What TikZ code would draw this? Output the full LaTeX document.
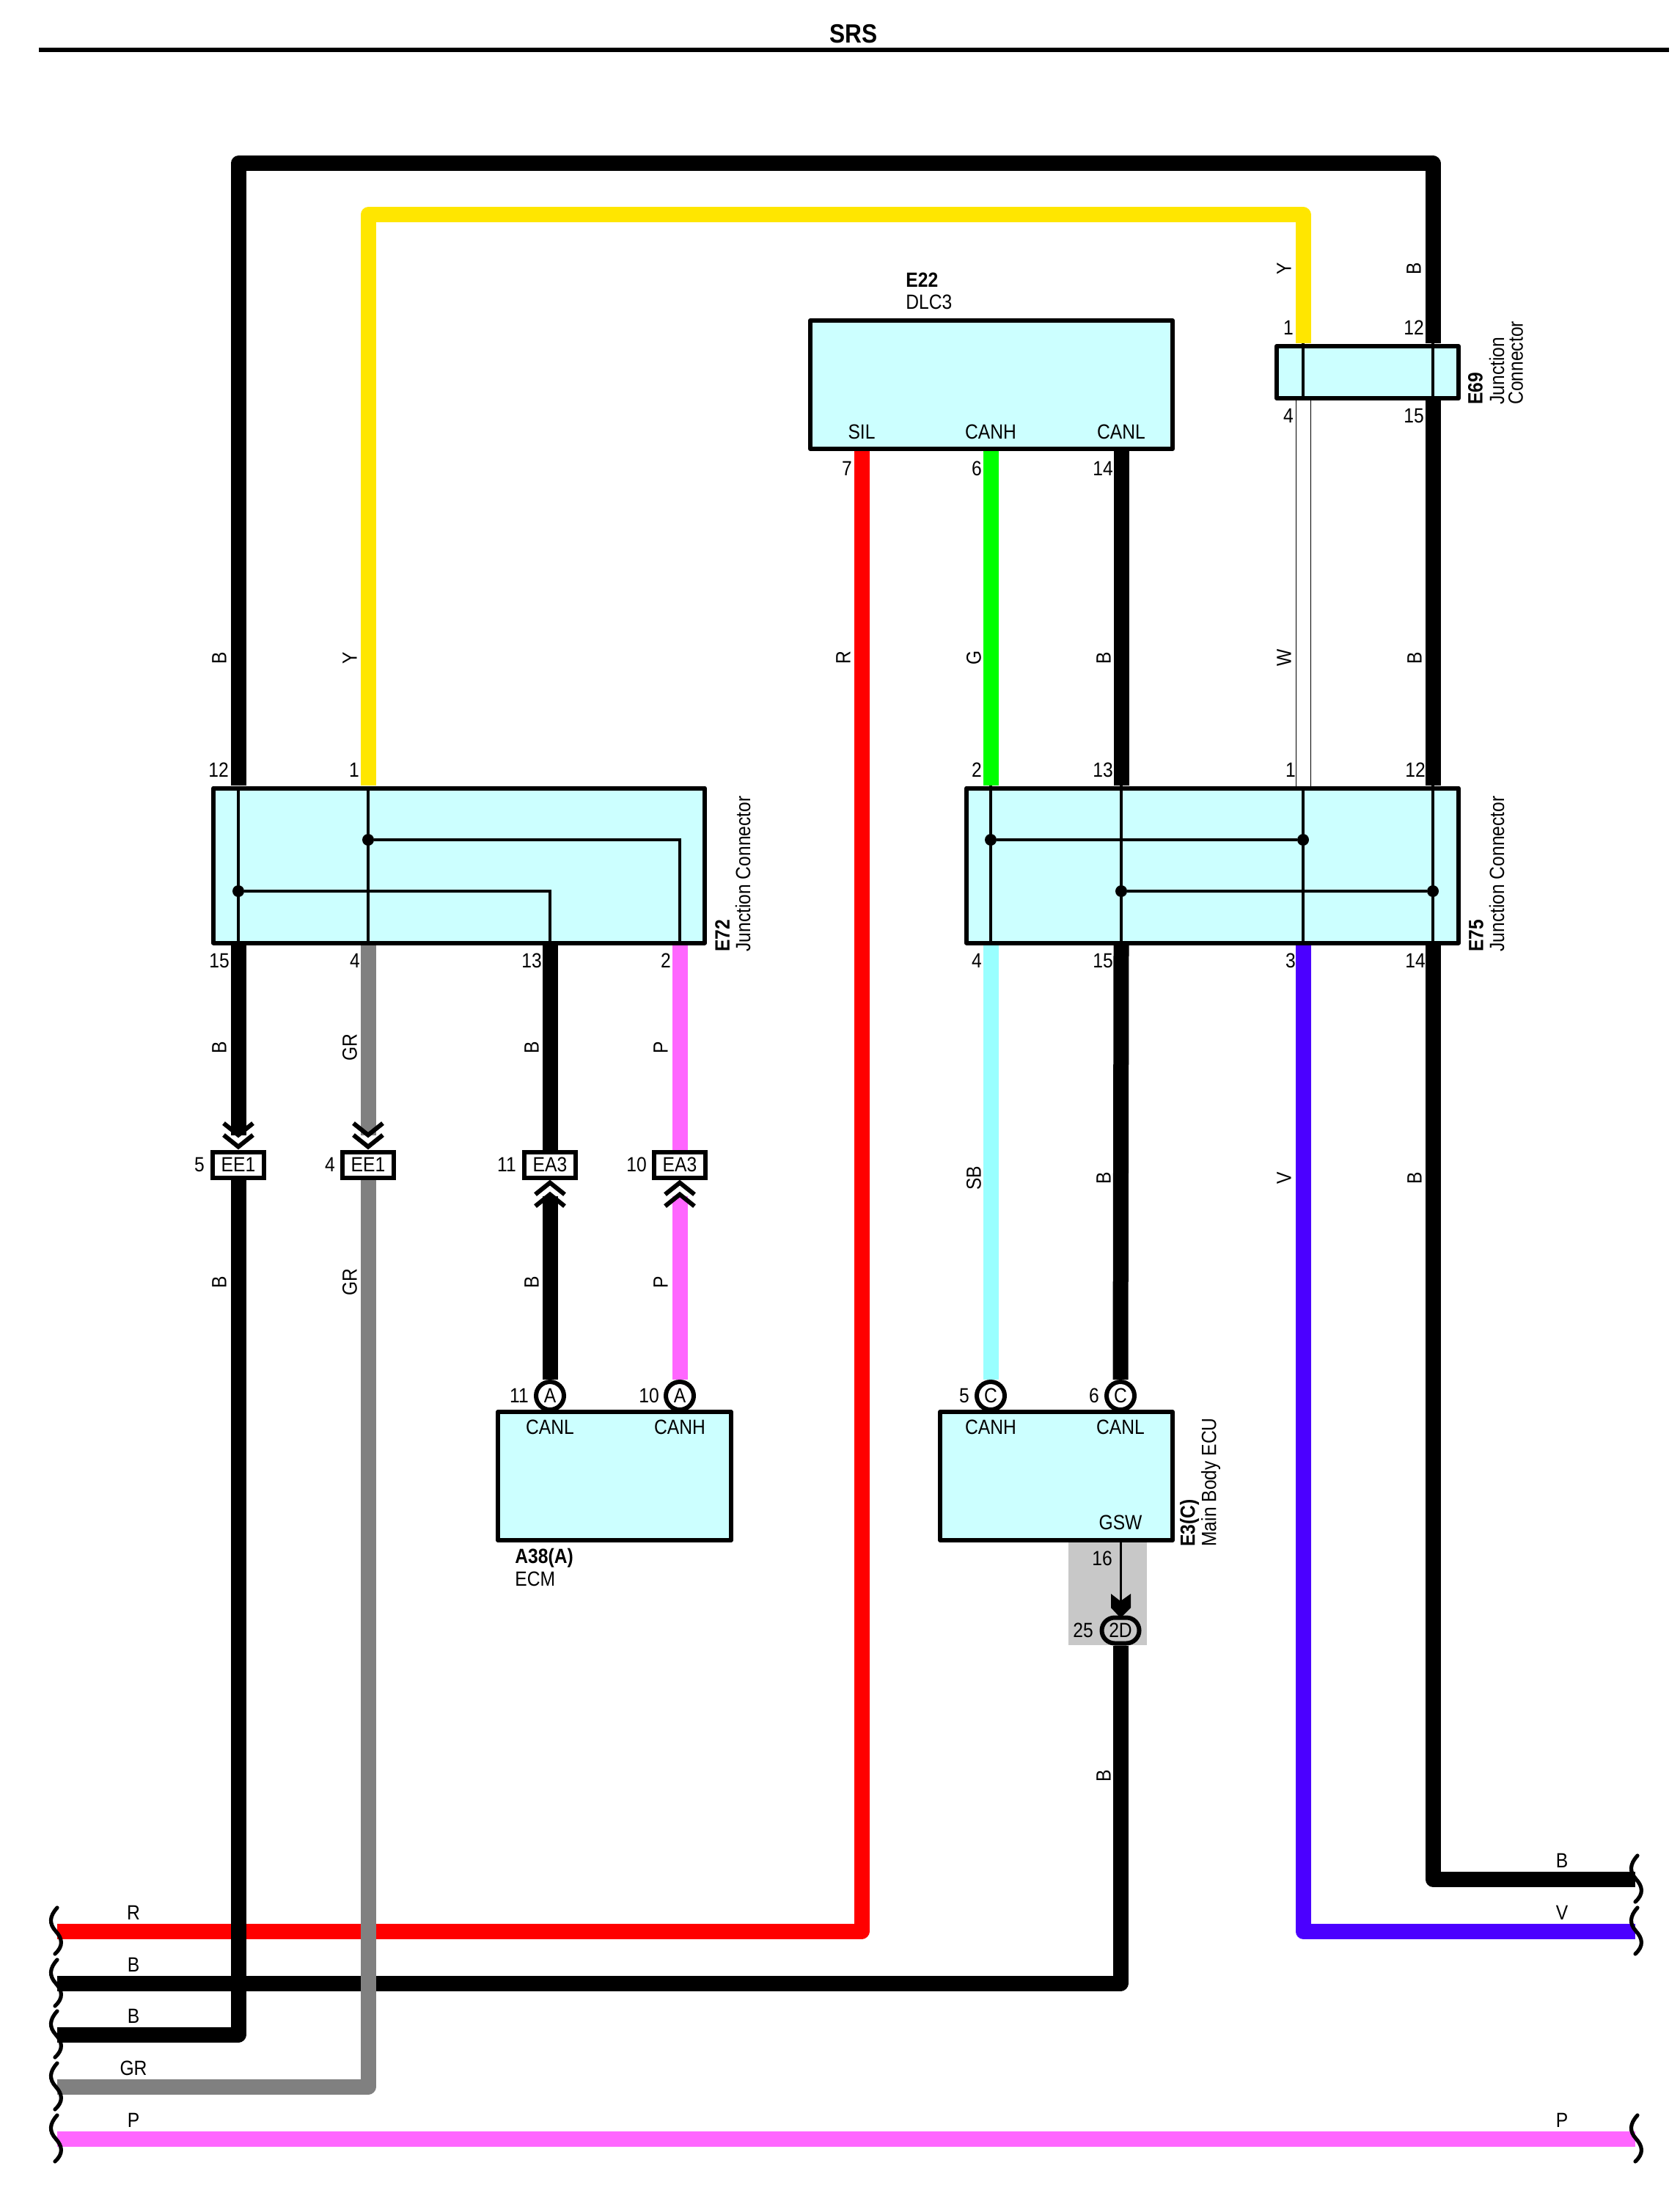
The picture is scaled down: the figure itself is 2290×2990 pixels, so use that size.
\documentclass[tikz,border=0pt]{standalone}
\usepackage{fontspec}
\setmainfont[FakeStretch=0.88]{Liberation Sans}
\usetikzlibrary{positioning,calc,shapes.misc}

\definecolor{wireY}{HTML}{FFE600}
\definecolor{wireR}{HTML}{FF0000}
\definecolor{wireG}{HTML}{00FF00}
\definecolor{wireSB}{HTML}{99FFFF}
\definecolor{wireV}{HTML}{4B00FF}
\definecolor{wireP}{HTML}{FF66FF}
\definecolor{wireGR}{HTML}{808080}
\definecolor{unitfill}{HTML}{CCFFFF}
\definecolor{splicegray}{HTML}{C8C8C8}

\begin{document}
\begin{tikzpicture}[x=0.5pt,y=-0.5pt]
    \tikzset{txt/.style={font=\fontsize{14}{14}\selectfont, inner sep=0pt},
      wirelabel/.style={txt, rotate=90},
      tagname/.style={wirelabel, anchor=west},
      tagbold/.style={tagname, font=\fontsize{14}{14}\selectfont\bfseries},
      unitbox/.style={draw, fill=unitfill, line width=3pt, line join=round, inner sep=0pt},
      inline/.style={line width=2pt},
      inlinedot/.style={circle, fill, inner sep=0pt, minimum size=8pt},
      wire/.style={line width=10.5pt, line join=round},
      plug/.style={draw, fill=white, line width=3pt, txt, minimum width=35pt, minimum height=17.5pt},
      pin/.style={circle, draw, fill=white, line width=3pt, txt, minimum size=19pt},
      pics/chevdown/.style={code={
        \draw[line width=3pt] (-20,-36) -- (0,-20) -- (20,-36);
        \draw[line width=3pt] (-20,-20) -- (0,-4) -- (20,-20);
      }},
      pics/chevup/.style={code={
        \draw[line width=3pt] (-20,20) -- (0,4) -- (20,20);
        \draw[line width=3pt] (-20,36) -- (0,20) -- (20,36);
      }},
      pics/squiggle/.style={code={
        \draw[line width=2.6pt, line cap=round] (2,-32) .. controls (-9,-20) and (-9,-10) .. (0,0)
          .. controls (9,10) and (11,20) .. (-1,31);
      }}
    }

    \useasboundingbox (0,0) rectangle (2290,2990);

    % title
    \node[font=\fontsize{18}{18}\selectfont\bfseries, inner sep=0pt] (title) at (1164,46) {SRS};
    \coordinate (ruleL) at (53,68);
    \coordinate (ruleR) at (2276,68);
    \draw[line width=3pt] (ruleL) -- (ruleR);

    % units
    \node[unitbox, minimum width=335pt, minimum height=105.5pt] (E72) at (626,1180) {};
    \node[unitbox, minimum width=335.5pt, minimum height=105.5pt] (E75) at (1653.5,1180) {};
    \node[unitbox, minimum width=124pt, minimum height=35.5pt] (E69) at (1865,507.5) {};
    \node[unitbox, minimum width=247pt, minimum height=87.5pt] (E22) at (1352,524.5) {};
    \node[fill=splicegray, inner sep=0pt, minimum width=53.5pt, minimum height=70pt] (gswzone) at (1510.5,2173) {};
    \node[unitbox, minimum width=158.5pt, minimum height=87.5pt] (E3) at (1440.5,2012.5) {};
    \node[unitbox, minimum width=159pt, minimum height=87.5pt] (A38) at (838,2012.5) {};

    % pins on the edges of the units
    \coordinate (E72-12) at (325,1071);
    \coordinate (E72-1) at (502,1071);
    \coordinate (E72-15) at (325,1289);
    \coordinate (E72-4) at (502,1289);
    \coordinate (E72-13) at (750,1289);
    \coordinate (E72-2) at (927,1289);
    \coordinate (E75-2) at (1351,1071);
    \coordinate (E75-13) at (1529,1071);
    \coordinate (E75-1) at (1777,1072);
    \coordinate (E75-12) at (1954,1071);
    \coordinate (E75-4) at (1351,1289);
    \coordinate (E75-15) at (1529,1289);
    \coordinate (E75-3) at (1777,1289);
    \coordinate (E75-14) at (1954,1289);
    \coordinate (E69-1) at (1777,468);
    \coordinate (E69-12) at (1954,468);
    \coordinate (E69-4) at (1777,546);
    \coordinate (E69-15) at (1954,546);
    \coordinate (E22-7) at (1175,615);
    \coordinate (E22-6) at (1351,615);
    \coordinate (E22-14) at (1529,615);

    % inside the junction connectors
    \draw[inline] (E72-12 |- E72.north) -- (E72-15 |- E72.south);
    \draw[inline] (E72-1 |- E72.north) -- (E72-4 |- E72.south);
    \node[inlinedot] (E72a) at (502,1145) {};
    \node[inlinedot] (E72b) at (325,1215) {};
    \draw[inline] (E72a) -| (E72-2);
    \draw[inline] (E72b) -| (E72-13);

    \draw[inline] (E75-2) -- (E75-4);
    \draw[inline] (E75-13) -- (E75-15);
    \draw[inline] (E75-1) -- (E75-3);
    \draw[inline] (E75-12) -- (E75-14);
    \node[inlinedot] (E75a) at (1351,1145) {};
    \node[inlinedot] (E75b) at (1777,1145) {};
    \node[inlinedot] (E75c) at (1529,1215) {};
    \node[inlinedot] (E75d) at (1954,1215) {};
    \draw[inline] (E75a) -- (E75b);
    \draw[inline] (E75c) -- (E75d);

    \draw[inline] (E69-1) -- (E69-4);
    \draw[inline] (E69-12) -- (E69-15);

    % connectors
    \node[plug] (EE1a) at (325,1588) {EE1};
    \node[plug] (EE1b) at (502,1588) {EE1};
    \node[plug] (EA3a) at (750,1588) {EA3};
    \node[plug] (EA3b) at (927,1588) {EA3};
    \node[pin] (A38a) at (750,1903) {A};
    \node[pin] (A38b) at (927,1903) {A};
    \node[pin] (E3a) at (1351,1903) {C};
    \node[pin] (E3b) at (1528,1903) {C};
    \node[draw, fill=splicegray, line width=3pt, txt, rounded rectangle, minimum width=25.5pt, minimum height=17.5pt] (G2D) at (1528,2223) {2D};
    \draw[inline, line width=1.5pt] (1528,2103) -- (G2D.north);
    \fill (1515,2173) -- (1528,2183) -- (1542,2173) -- (1542,2192) -- (1528,2206) -- (1515,2192) -- cycle;

    % free ends and corners
    \coordinate (topL) at (325,223);
    \coordinate (topR) at (1954,223);
    \coordinate (yelL) at (502,293);
    \coordinate (yelR) at (1777,293);
    \coordinate (endR) at (78,2633);
    \coordinate (endB1) at (78,2704);
    \coordinate (endB2) at (78,2774);
    \coordinate (endGR) at (78,2845);
    \coordinate (endP) at (78,2916);
    \coordinate (endB) at (2230,2562);
    \coordinate (endV) at (2230,2633);
    \coordinate (endP2) at (2230,2916);

    % wires
    \draw[wire] (E72-12) -- (topL) -- (topR) -- (E69-12);
    \draw[wire, wireY] (E72-1) -- (yelL) -- (yelR) -- (E69-1);
    \draw[wire] (E72-15) -- ($(EE1a.north)+(0,-20)$);
    \draw[wire, wireGR] (E72-4) -- ($(EE1b.north)+(0,-20)$);
    \draw[wire] (E72-13) -- (EA3a.north);
    \draw[wire, wireP] (E72-2) -- (EA3b.north);
    \draw[wire] (A38a.north) -- ($(EA3a.south)+(0,22)$);
    \draw[wire, wireP] (A38b.north) -- ($(EA3b.south)+(0,22)$);
    \pic at (EE1a.north) {chevdown};
    \pic at (EE1b.north) {chevdown};
    \pic at (EA3a.south) {chevup};
    \pic at (EA3b.south) {chevup};

    \draw[wire, wireR] (E22-7) -- (endR -| E22-7) -- (endR);
    \draw[wire, wireG] (E22-6) -- (E75-2);
    \draw[wire] (E22-14) -- (E75-13);
    \draw[wire, wireSB] (E75-4) -- (E3a.north);
    \draw[wire] (E75-15) -- (E3b.north);
    \draw[wire] (G2D.south) -- (endB1 -| G2D.south) -- (endB1);
    \draw[wire] (EE1a.south) -- (endB2 -| EE1a.south) -- (endB2);
    \draw[wire, wireGR] (EE1b.south) -- (endGR -| EE1b.south) -- (endGR);
    \draw[wire, wireP] (endP) -- (endP2);
    \draw[wire, wireV] (E75-3) -- (endV -| E75-3) -- (endV);
    \draw[wire] (E69-15) -- (E75-12);
    \draw[wire] (E75-14) -- (endB -| E75-14) -- (endB);
    % white wire
    \draw[line width=0.5pt] (1767,546) -- (1767,1072);
    \draw[line width=0.5pt] (1787,546) -- (1787,1072);

    \pic at (76,2633) {squiggle};
    \pic at (76,2704) {squiggle};
    \pic at (76,2774) {squiggle};
    \pic at (76,2845) {squiggle};
    \pic at (76,2916) {squiggle};
    \pic at (2231,2562) {squiggle};
    \pic at (2231,2633) {squiggle};
    \pic at (2231,2916) {squiggle};

    % unit names
    \node[txt, anchor=west, font=\fontsize{14}{14}\selectfont\bfseries] (E22name) at (1235,382) {E22};
    \node[txt, anchor=west] (E22desc) at (1235,412) {DLC3};
    \node[txt, anchor=west, font=\fontsize{14}{14}\selectfont\bfseries] (A38name) at (702,2124) {A38(A)};
    \node[txt, anchor=west] (A38desc) at (702,2153) {ECM};
    \node[tagbold] (E69name) at (2012,552) {E69};
    \node[tagname] (E69descA) at (2041,552) {Junction};
    \node[tagname] (E69descB) at (2067,552) {Connector};
    \node[tagbold] (E72name) at (985,1298) {E72};
    \node[tagname] (E72desc) at (1013,1298) {Junction Connector};
    \node[tagbold] (E75name) at (2013,1298) {E75};
    \node[tagname] (E75desc) at (2041,1298) {Junction Connector};
    \node[tagbold] (E3name) at (1622,2109) {E3(C)};
    \node[tagname] (E3desc) at (1651,2109) {Main Body ECU};

    % terminals inside units
    \node[txt] (SIL) at (1175,589) {SIL};
    \node[txt] (E22H) at (1351,589) {CANH};
    \node[txt] (E22L) at (1529,589) {CANL};
    \node[txt] (A38L) at (750,1946) {CANL};
    \node[txt] (A38H) at (927,1946) {CANH};
    \node[txt] (E3H) at (1351,1946) {CANH};
    \node[txt] (E3L) at (1528,1946) {CANL};
    \node[txt] (GSW) at (1528,2076) {GSW};

    % pin numbers
    \node[txt] (n1) at (1757,447) {1};
    \node[txt] (n2) at (1928,447) {12};
    \node[txt] (n3) at (1757,567) {4};
    \node[txt] (n4) at (1928,567) {15};
    \node[txt] (n5) at (1155,639) {7};
    \node[txt] (n6) at (1332,639) {6};
    \node[txt] (n7) at (1504,639) {14};
    \node[txt] (n8) at (298,1050) {12};
    \node[txt] (n9) at (483,1050) {1};
    \node[txt] (n10) at (1332,1050) {2};
    \node[txt] (n11) at (1504,1050) {13};
    \node[txt] (n12) at (1760,1050) {1};
    \node[txt] (n13) at (1930,1050) {12};
    \node[txt] (n14) at (299,1310) {15};
    \node[txt] (n15) at (484,1310) {4};
    \node[txt] (n16) at (725,1310) {13};
    \node[txt] (n17) at (908,1310) {2};
    \node[txt] (n18) at (1332,1310) {4};
    \node[txt] (n19) at (1504,1310) {15};
    \node[txt] (n20) at (1760,1310) {3};
    \node[txt] (n21) at (1930,1310) {14};
    \node[txt] (n22) at (272,1588) {5};
    \node[txt] (n23) at (450,1588) {4};
    \node[txt] (n24) at (691,1588) {11};
    \node[txt] (n25) at (868,1588) {10};
    \node[txt] (n26) at (708,1903) {11};
    \node[txt] (n27) at (885,1903) {10};
    \node[txt] (n28) at (1315,1903) {5};
    \node[txt] (n29) at (1492,1903) {6};
    \node[txt] (n30) at (1503,2125) {16};
    \node[txt] (n31) at (1477,2223) {25};

    % wire colours
    \node[wirelabel] (cY1) at (1751,366) {Y};
    \node[wirelabel] (cB1) at (1928,366) {B};
    \node[wirelabel] (cB2) at (299,897) {B};
    \node[wirelabel] (cY2) at (477,897) {Y};
    \node[wirelabel] (cR1) at (1150,897) {R};
    \node[wirelabel] (cG) at (1328,897) {G};
    \node[wirelabel] (cB3) at (1505,897) {B};
    \node[wirelabel] (cW) at (1751,897) {W};
    \node[wirelabel] (cB4) at (1929,897) {B};
    \node[wirelabel] (cB5) at (299,1428) {B};
    \node[wirelabel] (cGR1) at (477,1428) {GR};
    \node[wirelabel] (cB6) at (725,1428) {B};
    \node[wirelabel] (cP1) at (901,1428) {P};
    \node[wirelabel] (cSB) at (1328,1606) {SB};
    \node[wirelabel] (cB7) at (1505,1606) {B};
    \node[wirelabel] (cV1) at (1751,1606) {V};
    \node[wirelabel] (cB8) at (1929,1606) {B};
    \node[wirelabel] (cB9) at (299,1748) {B};
    \node[wirelabel] (cGR2) at (477,1748) {GR};
    \node[wirelabel] (cB10) at (725,1748) {B};
    \node[wirelabel] (cP2) at (901,1748) {P};
    \node[wirelabel] (cB11) at (1505,2421) {B};
    \node[txt] (cR2) at (182,2608) {R};
    \node[txt] (cB12) at (182,2679) {B};
    \node[txt] (cB13) at (182,2749) {B};
    \node[txt] (cGR3) at (182,2820) {GR};
    \node[txt] (cP3) at (182,2891) {P};
    \node[txt] (cB14) at (2130,2537) {B};
    \node[txt] (cV2) at (2130,2608) {V};
    \node[txt] (cP4) at (2130,2891) {P};
  \end{tikzpicture}
\end{document}
